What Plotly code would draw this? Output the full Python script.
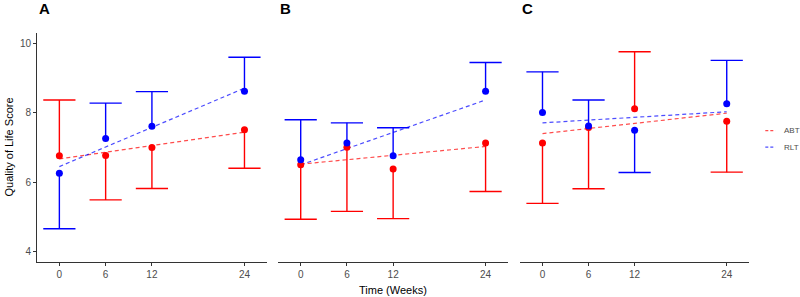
import plotly.graph_objects as go

weeks = [0, 6, 12, 24]
tick_labels = ["0", "6", "12", "24"]
y_ticks = [4, 6, 8, 10]
panels = ["A", "B", "C"]
groups = ["ABT", "RLT"]

# means and error-bar end values (one-sided bars)
A_abt_mean = [6.76, 6.77, 7.00, 7.51]
A_abt_end = [8.37, 5.49, 5.82, 6.40]
A_rlt_mean = [6.26, 7.26, 7.61, 8.62]
A_rlt_end = [4.66, 8.28, 8.61, 9.60]
A_abt_fit = [6.67, 7.44]
A_rlt_fit = [6.45, 8.71]

B_abt_mean = [6.50, 7.01, 6.38, 7.13]
B_abt_end = [4.93, 5.16, 4.95, 5.73]
B_rlt_mean = [6.65, 7.13, 6.76, 8.62]
B_rlt_end = [7.80, 7.71, 7.57, 9.45]
B_abt_fit = [6.52, 7.03]
B_rlt_fit = [6.50, 8.37]

C_abt_mean = [7.13, 7.58, 8.12, 7.76]
C_abt_end = [5.39, 5.81, 9.76, 6.29]
C_rlt_mean = [8.01, 7.62, 7.50, 8.26]
C_rlt_end = [9.18, 8.37, 6.28, 9.51]
C_abt_fit = [7.40, 7.99]
C_rlt_fit = [7.71, 8.03]

fit_x = [weeks[0], weeks[-1]]

data = {
    "A": {"ABT": (A_abt_mean, A_abt_end, A_abt_fit), "RLT": (A_rlt_mean, A_rlt_end, A_rlt_fit)},
    "B": {"ABT": (B_abt_mean, B_abt_end, B_abt_fit), "RLT": (B_rlt_mean, B_rlt_end, B_rlt_fit)},
    "C": {"ABT": (C_abt_mean, C_abt_end, C_abt_fit), "RLT": (C_rlt_mean, C_rlt_end, C_rlt_fit)},
}
colors = {"ABT": "#FF0000", "RLT": "#0000FF"}
line_colors = {"ABT": "rgba(255,0,0,0.7)", "RLT": "rgba(0,0,255,0.7)"}
FONT = "Liberation Sans, Arial"

fig = go.Figure()
domains = [[0.0, 0.3228], [0.339, 0.6614], [0.6787, 1.0]]

for pi, p in enumerate(panels):
    xa = "x" if pi == 0 else f"x{pi+1}"
    ya = "y" if pi == 0 else f"y{pi+1}"
    for g in groups:
        mean, end, fit = data[p][g]
        fig.add_trace(go.Scatter(
            x=fit_x, y=fit, mode="lines", xaxis=xa, yaxis=ya,
            line=dict(color=line_colors[g], width=1.2, dash="4px,3px"),
            name=g, showlegend=False, hoverinfo="skip"))
    for g in groups:
        mean, end, fit = data[p][g]
        up = [max(e - m, 0) for m, e in zip(mean, end)]
        dn = [max(m - e, 0) for m, e in zip(mean, end)]
        fig.add_trace(go.Scatter(
            x=weeks, y=end, mode="markers", xaxis=xa, yaxis=ya,
            marker=dict(symbol="line-ew", size=23, color=colors[g],
                        line=dict(color=colors[g], width=1.4)),
            showlegend=False, hoverinfo="skip"))
        fig.add_trace(go.Scatter(
            x=weeks, y=mean, mode="markers", xaxis=xa, yaxis=ya, name=g,
            marker=dict(size=7, color=colors[g]),
            error_y=dict(type="data", symmetric=False, array=up, arrayminus=dn,
                         width=0, thickness=1.4, color=colors[g]),
            showlegend=False))

axis_common = dict(range=[-2.9, 26.9], tickmode="array", tickvals=weeks, ticktext=tick_labels,
                   showline=True, linecolor="#333333", linewidth=1, ticks="outside",
                   ticklen=3, tickcolor="#333333", showgrid=False, zeroline=False,
                   automargin=False,
                   tickfont=dict(family=FONT, size=10, color="#4D4D4D"))
yrange = [3.7, 10.3]

layout = dict(
    width=800, height=297,
    margin=dict(l=37, r=51, t=33, b=35, autoexpand=False),
    plot_bgcolor="white", paper_bgcolor="white",
    font=dict(family=FONT, color="#000000"),
    showlegend=False,
)
for pi in range(3):
    suffix = "" if pi == 0 else str(pi + 1)
    layout["xaxis" + suffix] = dict(axis_common, domain=domains[pi], anchor="y" + suffix)
    if pi == 0:
        layout["yaxis"] = dict(range=yrange, tickvals=y_ticks, showline=True,
                               linecolor="#333333", linewidth=1, ticks="outside", ticklen=3,
                               tickcolor="#333333", showgrid=False, zeroline=False,
                               automargin=False,
                               tickfont=dict(family=FONT, size=10, color="#4D4D4D"),
                               anchor="x", domain=[0, 1])
    else:
        layout["yaxis" + suffix] = dict(range=yrange, showline=False, showticklabels=False,
                                        ticks="", showgrid=False, zeroline=False, automargin=False,
                                        anchor="x" + suffix, domain=[0, 1])
fig.update_layout(**layout)

annotations = []
for pi, p in enumerate(panels):
    annotations.append(dict(text=f"<b>{p}</b>", xref="paper", yref="paper",
                            x=domains[pi][0], y=1.155,
                            xanchor="left", yanchor="top", showarrow=False,
                            font=dict(size=15, color="#000000", family=FONT)))
annotations.append(dict(text="Time (Weeks)", xref="paper", yref="paper", x=0.5005, y=-0.121,
                        xanchor="center", yanchor="middle", showarrow=False,
                        font=dict(size=11, color="#000000")))
annotations.append(dict(text="Quality of Life Score", xref="paper", yref="paper", x=-0.0407, y=0.5,
                        xanchor="center", yanchor="middle", textangle=-90, showarrow=False,
                        font=dict(size=11, color="#000000")))

# legend (custom, ggplot-style short dashed keys)
legend_y = {"ABT": 0.574, "RLT": 0.5015}
shapes = []
for g in groups:
    shapes.append(dict(type="line", xref="paper", yref="paper", x0=1.0229, x1=1.0370,
                       y0=legend_y[g], y1=legend_y[g],
                       line=dict(color=line_colors[g], width=1.2, dash="3px,2px")))
    annotations.append(dict(text=g, xref="paper", yref="paper", x=1.0468, y=legend_y[g],
                            xanchor="left", yanchor="middle", showarrow=False,
                            font=dict(size=8, color="#4D4D4D")))
fig.update_layout(annotations=annotations, shapes=shapes)

fig.write_html("out.html", config={"displayModeBar": False},
               post_script="document.body.style.margin='0';")
